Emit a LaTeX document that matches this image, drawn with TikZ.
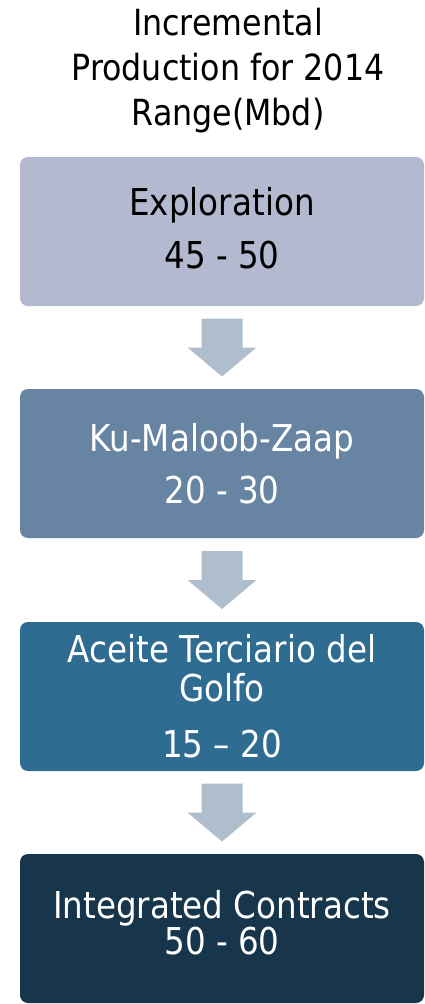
\documentclass[tikz,border=0pt]{standalone}
\usepackage{fontspec}
\setmainfont{DejaVu Sans}[FakeStretch=0.88]
\usetikzlibrary{calc}
\definecolor{explore}{HTML}{B3B9CE}
\definecolor{kmzblue}{HTML}{6784A2}
\definecolor{atgblue}{HTML}{2E6C92}
\definecolor{contract}{HTML}{18364B}
\definecolor{arrowgray}{HTML}{AFBECC}

\begin{document}
\begin{tikzpicture}[x=1pt, y=1pt,
  stage/.style={rectangle, rounded corners=8pt, minimum width=404pt,
    minimum height=149pt, inner sep=0pt, align=center,
    font=\fontsize{37}{39}\selectfont}]
  \useasboundingbox (0,0) rectangle (424,-1004);
  \node[align=center, font=\fontsize{36}{45}\selectfont] (title) at (228,-70.5)
    {Incremental\\Production for 2014\\Range(Mbd)};
  \node[stage, fill=explore, text=black, text depth=8pt] (expl) at (222,-231.5)
    {Exploration\\[14pt]45 - 50};
  \node[stage, fill=kmzblue, text=white] (kmz) at (222,-463.5)
    {Ku-Maloob-Zaap\\[13pt]20 - 30};
  \node[stage, fill=atgblue, text=white] (atg) at (222,-696.5)
    {Aceite Terciario del\\Golfo\\[17pt]15 -- 20};
  \node[stage, fill=contract, text=white, text depth=12pt,
    font=\fontsize{37}{31}\selectfont] (ic) at (222,-928.5)
    {Integrated Contracts\\50 - 60};
  \foreach \a/\b in {expl/kmz, kmz/atg, atg/ic} {
    \coordinate (mid) at ($(\a.south)!0.5!(\b.north)$);
    \fill[arrowgray, shift={(mid)}] (-20.5,29) -- (20.5,29) -- (20.5,0) -- (34.5,0)
      -- (0,-29) -- (-34.5,0) -- (-20.5,0) -- cycle;
  }
\end{tikzpicture}
\end{document}
